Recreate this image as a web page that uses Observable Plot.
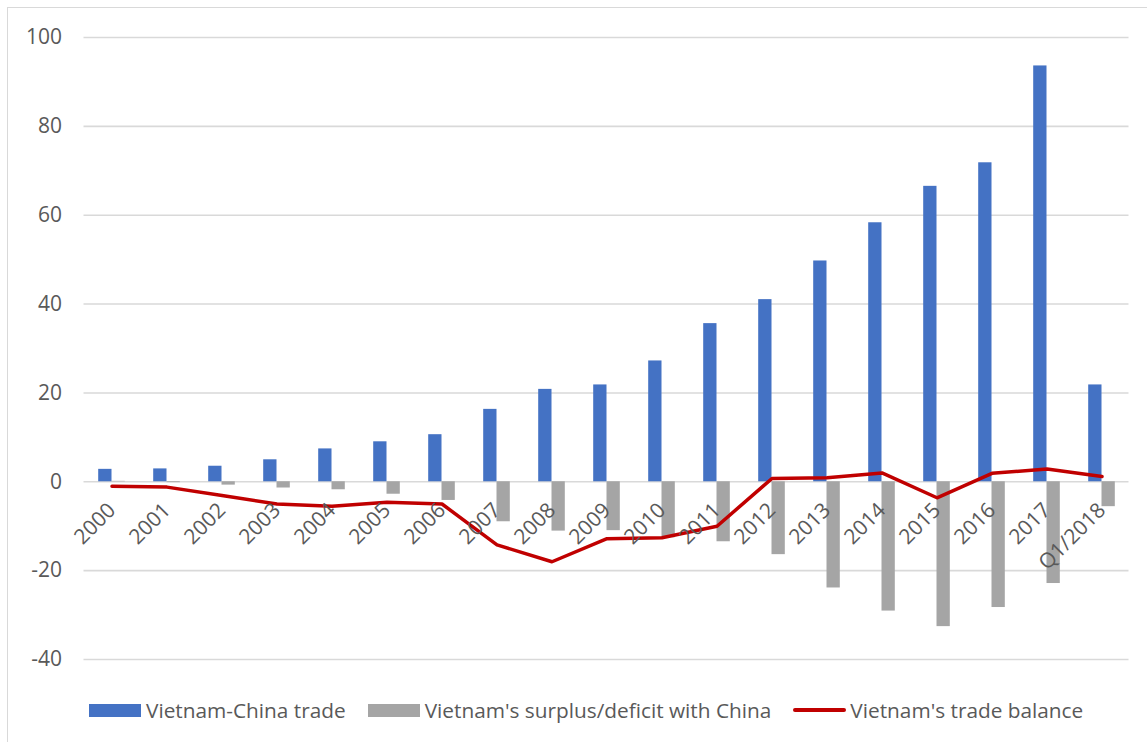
<!DOCTYPE html>
<html>
<head>
<meta charset="utf-8">
<script src="https://cdn.jsdelivr.net/npm/d3@7"></script>
<script src="https://cdn.jsdelivr.net/npm/@observablehq/plot@0.6"></script>
<style>
html, body { margin: 0; padding: 0; background: #fff; width: 1147px; height: 742px; overflow: hidden; }
body { position: relative; font-family: "Open Sans", sans-serif; }
#frame { position: absolute; left: 7px; top: 7px; width: 1200px; height: 800px; border: 1.5px solid #d9d9d9; box-sizing: border-box; }
#chart { position: absolute; left: 0; top: 0; }
#legend { position: absolute; left: 89px; top: 694px; height: 32px; display: flex; align-items: center; font-size: 20.8px; color: #595959; white-space: nowrap; }
#legend .item { display: flex; align-items: center; margin-right: 22px; }
#legend .sw { width: 52px; height: 13px; margin-right: 5px; }
#legend .ln { width: 53px; height: 4px; margin-right: 4px; border-radius: 2px; }
</style>
</head>
<body>
<div id="frame"></div>
<div id="chart"></div>
<div id="legend"></div>
<script>
const categories = ["2000","2001","2002","2003","2004","2005","2006","2007","2008","2009","2010","2011","2012","2013","2014","2015","2016","2017","Q1/2018"];
const tradeValues = [2.8, 2.9, 3.5, 4.95, 7.4, 9.0, 10.6, 16.3, 20.8, 21.8, 27.2, 35.6, 41.0, 49.7, 58.3, 66.5, 71.8, 93.6, 21.8];
const surplusValues = [0.1, -0.2, -0.75, -1.4, -1.8, -2.8, -4.2, -9.0, -11.1, -11.0, -12.6, -13.5, -16.4, -23.9, -29.1, -32.6, -28.3, -22.9, -5.6];
const balanceValues = [-1.0, -1.2, -3.1, -5.0, -5.5, -4.6, -5.0, -14.2, -18.0, -12.8, -12.6, -10.0, 0.75, 0.9, 2.0, -3.6, 1.9, 2.9, 1.2];
const yTicks = [-40, -20, 0, 20, 40, 60, 80, 100];
const seriesNames = ["Vietnam-China trade", "Vietnam's surplus/deficit with China", "Vietnam's trade balance"];
const seriesColors = ["#4472c4", "#a5a5a5", "#c00000"];

const rows = categories.map((c, i) => ({cat: c, trade: tradeValues[i], surplus: surplusValues[i], balance: balanceValues[i]}));

const chart = Plot.plot({
  width: 1147,
  height: 680,
  marginLeft: 83.5,
  marginRight: 18.5,
  marginTop: 37,
  marginBottom: 21,
  x: {domain: categories, padding: 0, axis: null},
  y: {domain: [-40, 100], axis: null},
  style: {fontFamily: "'Open Sans', sans-serif", background: "transparent", overflow: "visible"},
  marks: [
    Plot.ruleY(yTicks, {stroke: "#d9d9d9", strokeWidth: 1.6}),
    Plot.barY(rows, {x: "cat", y: "trade", fill: seriesColors[0], insetLeft: 14.2, insetRight: 27.5}),
    Plot.barY(rows, {x: "cat", y: "surplus", fill: seriesColors[1], insetLeft: 27.5, insetRight: 14.2}),
    Plot.lineY(rows, {x: "cat", y: "balance", stroke: seriesColors[2], strokeWidth: 3.5, strokeLinejoin: "round", strokeLinecap: "round"}),
    Plot.text(rows, {x: "cat", y: () => 0, text: "cat", rotate: -45, textAnchor: "end", lineAnchor: "middle", dy: 25, fontSize: 21, fill: "#595959"}),
    Plot.axisY(yTicks, {tickSize: 0, tickPadding: 22, fontSize: 21, color: "#595959", label: null, tickFormat: d => String(d)})
  ]
});
document.getElementById("chart").appendChild(chart);

const legend = document.getElementById("legend");
seriesNames.forEach((name, i) => {
  const item = document.createElement("div");
  item.className = "item";
  const sw = document.createElement("div");
  sw.className = i === 2 ? "ln" : "sw";
  sw.style.background = seriesColors[i];
  const label = document.createElement("span");
  label.textContent = name;
  item.appendChild(sw);
  item.appendChild(label);
  legend.appendChild(item);
});
</script>
</body>
</html>
